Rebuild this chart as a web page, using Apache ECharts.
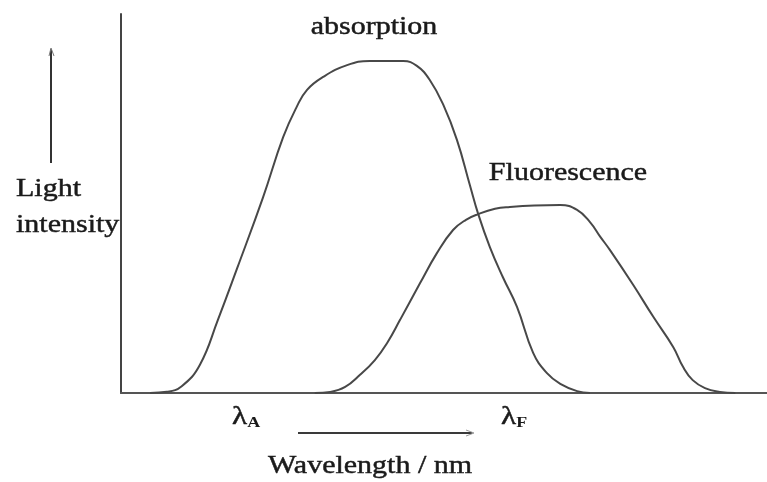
<!DOCTYPE html>
<html>
<head>
<meta charset="utf-8">
<script src="https://cdn.jsdelivr.net/npm/echarts@6/dist/echarts.min.js"></script>
<style>
  html, body { margin: 0; padding: 0; background: #ffffff; }
  #chart { width: 767px; height: 482px; }
</style>
</head>
<body>
<div id="chart"></div>
<script>
// Absorption band (wavelength in arbitrary units, intensity in % of full scale)
const absWavelength = [4.5, 7.1, 9.4, 12.2, 15.0, 18.0, 22.0, 25.1, 27.2, 28.8, 31.3, 35.0, 38.5, 43.7, 45.8, 47.8, 49.9, 52.0, 54.0, 55.3, 57.1, 59.1, 61.3, 63.8, 65.9, 68.0, 70.6, 72.6];
const absIntensity  = [0, 0.3, 1.8, 7.4, 19.3, 33.0, 51.7, 67.5, 75.5, 80.0, 83.4, 86.5, 87.6, 87.6, 86.3, 82.6, 76.0, 66.8, 54.9, 47.2, 38.5, 30.6, 22.7, 10.6, 5.3, 2.4, 0.5, 0];

// Fluorescence band (red-shifted, weaker)
const fluWavelength = [30.0, 32.4, 34.7, 37.0, 39.3, 41.2, 43.2, 46.3, 48.9, 51.4, 53.4, 55.3, 57.9, 60.2, 64.0, 68.0, 70.6, 72.6, 74.2, 75.7, 79.3, 82.4, 85.5, 87.0, 88.5, 90.4, 92.7, 95.1];
const fluIntensity  = [0, 0.3, 1.6, 4.8, 8.7, 13.2, 19.3, 29.0, 36.9, 43.0, 45.7, 47.2, 48.6, 49.1, 49.5, 49.6, 48.3, 45.1, 41.2, 37.7, 28.5, 20.1, 12.1, 6.9, 3.4, 1.3, 0.3, 0];

// Annotation texts
const labelAbsorption = 'absorption';
const labelFluorescence = 'Fluorescence';
const labelYLines = ['Light', 'intensity'];
const labelXAxis = 'Wavelength / nm';
const labelLambdaA = ['λ', 'A'];
const labelLambdaF = ['λ', 'F'];

const pairs = (xs, ys) => xs.map((x, i) => [x, ys[i]]);

const ink = '#1a1a1a';
const curveColor = '#484848';
const serif = '"Liberation Serif", "Times New Roman", serif';
const stretch = 1.2;

function label(text, x, y, size, align) {
  return {
    type: 'text', x: x, y: y, scaleX: stretch, silent: true,
    style: {
      x: 0, y: 0, text: text, fill: ink, stroke: ink, lineWidth: 0.45,
      font: size + 'px ' + serif,
      textAlign: align || 'center', textVerticalAlign: 'middle'
    }
  };
}

function lambdaLabel(parts, x, y) {
  return {
    type: 'text', x: x, y: y, scaleX: stretch, silent: true,
    style: {
      x: 0, y: 0,
      text: '{l|' + parts[0] + '}{s|' + parts[1] + '}',
      textAlign: 'left', textVerticalAlign: 'middle',
      rich: {
        l: { fontFamily: serif, fontSize: 26, fill: ink, stroke: ink, lineWidth: 0.45 },
        s: { fontFamily: serif, fontSize: 15, fontWeight: 'bold', fill: ink, padding: [12, 0, 0, 0] }
      }
    }
  };
}

const chart = echarts.init(document.getElementById('chart'), null, { renderer: 'canvas' });

chart.setOption({
  backgroundColor: '#ffffff',
  animation: false,
  grid: { left: 121, right: 0, top: 14, bottom: 89, containLabel: false },
  xAxis: {
    type: 'value', min: 0, max: 100,
    axisLine: { show: true, lineStyle: { color: '#555555', width: 2 } },
    axisTick: { show: false }, axisLabel: { show: false }, splitLine: { show: false }
  },
  yAxis: {
    type: 'value', min: 0, max: 100,
    axisLine: { show: true, lineStyle: { color: '#444444', width: 2 } },
    axisTick: { show: false }, axisLabel: { show: false }, splitLine: { show: false }
  },
  series: [
    {
      name: labelAbsorption, type: 'line', data: pairs(absWavelength, absIntensity),
      showSymbol: false, smooth: 0.45, lineStyle: { color: curveColor, width: 2 }
    },
    {
      name: labelFluorescence, type: 'line', data: pairs(fluWavelength, fluIntensity),
      showSymbol: false, smooth: 0.45, lineStyle: { color: curveColor, width: 2 }
    }
  ],
  graphic: [
    label(labelAbsorption, 374, 27, 25),
    label(labelFluorescence, 568, 173, 25),
    label(labelYLines[0], 16, 189, 25, 'left'),
    label(labelYLines[1], 16, 225, 25, 'left'),
    label(labelXAxis, 370, 466, 25),
    lambdaLabel(labelLambdaA, 232, 417),
    lambdaLabel(labelLambdaF, 501, 417),
    // upward arrow beside the intensity label
    { type: 'line', silent: true, shape: { x1: 51, y1: 163, x2: 51, y2: 49 }, style: { stroke: '#333333', lineWidth: 2 } },
    { type: 'polyline', silent: true, shape: { points: [[49, 56], [51, 48], [54, 56]] }, style: { stroke: '#777777', lineWidth: 1, fill: null } },
    // increasing-wavelength arrow under the axis
    { type: 'line', silent: true, shape: { x1: 298, y1: 433, x2: 472, y2: 433 }, style: { stroke: '#3a3a3a', lineWidth: 2 } },
    { type: 'polyline', silent: true, shape: { points: [[466, 430], [474, 433], [466, 436]] }, style: { stroke: '#999999', lineWidth: 1, fill: null } }
  ]
});
</script>
</body>
</html>
